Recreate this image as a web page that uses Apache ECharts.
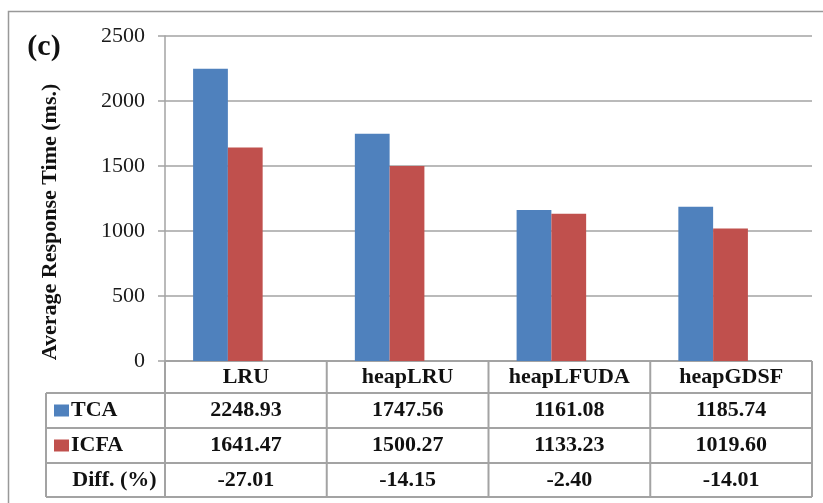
<!DOCTYPE html>
<html>
<head>
<meta charset="utf-8">
<script src="https://cdn.jsdelivr.net/npm/echarts@6/dist/echarts.min.js"></script>
<style>
  html, body { margin: 0; padding: 0; background: #fff; }
  #chart { width: 823px; height: 503px; }
</style>
</head>
<body>
<div id="chart"></div>
<script>
// Cache replacement policies and their average response times (ms.)
const categories = ['LRU', 'heapLRU', 'heapLFUDA', 'heapGDSF'];
const tcaValues = [2248.93, 1747.56, 1161.08, 1185.74];
const icfaValues = [1641.47, 1500.27, 1133.23, 1019.60];
const diffLabels = ['-27.01', '-14.15', '-2.40', '-14.01'];
const seriesNames = ['TCA', 'ICFA'];
const diffRowName = 'Diff. (%)';
const yTicks = [0, 500, 1000, 1500, 2000, 2500];
const panelTag = '(c)';
const yTitle = 'Average Response Time (ms.)';

const COLORS = ['#4F81BD', '#C0504D'];
const FONT = '"Liberation Serif", "Times New Roman", serif';
const LINE = '#A3A3A3';
const W = 823, H = 503;
// axis/table frame, and the slightly left-shifted band that holds the bars
const GRID = { left: 165, top: 36, right: 11, bottom: 142 };
const BAR_GRID = { left: 147, top: 36, right: 29, bottom: 142 };

const chart = echarts.init(document.getElementById('chart'), null, { renderer: 'canvas' });

const yRange = {
  min: yTicks[0],
  max: yTicks[yTicks.length - 1],
  interval: yTicks[1] - yTicks[0]
};

const option = {
  animation: false,
  backgroundColor: '#fff',
  grid: [
    Object.assign({ containLabel: false }, GRID),
    Object.assign({ containLabel: false }, BAR_GRID)
  ],
  xAxis: [
    {
      type: 'category', gridIndex: 0,
      data: categories,
      axisLine: { show: false },
      axisTick: { show: false },
      axisLabel: {
        margin: 16,
        verticalAlign: 'middle',
        fontFamily: FONT, fontSize: 22, fontWeight: 'bold', color: '#111'
      }
    },
    {
      type: 'category', gridIndex: 1,
      data: categories,
      show: false
    }
  ],
  yAxis: [
    Object.assign({
      type: 'value', gridIndex: 0,
      axisLine: { show: true, lineStyle: { color: LINE, width: 1.5 } },
      axisTick: { show: true, length: 7, lineStyle: { color: LINE, width: 1.5 } },
      splitLine: { show: true, lineStyle: { color: LINE, width: 1.5 } },
      axisLabel: {
        margin: 20, fontFamily: FONT, fontSize: 22, color: '#1a1a1a',
        formatter: v => String(v)
      }
    }, yRange),
    Object.assign({ type: 'value', gridIndex: 1, show: false, splitLine: { show: false } }, yRange)
  ],
  series: [
    {
      name: seriesNames[0], type: 'bar', data: tcaValues,
      xAxisIndex: 1, yAxisIndex: 1,
      itemStyle: { color: COLORS[0] },
      barGap: '0%', barCategoryGap: '57%'
    },
    {
      name: seriesNames[1], type: 'bar', data: icfaValues,
      xAxisIndex: 1, yAxisIndex: 1,
      itemStyle: { color: COLORS[1] },
      barGap: '0%', barCategoryGap: '57%'
    }
  ]
};
chart.setOption(option);

// Data table under the plot, aligned with the category columns
const left = GRID.left, right = W - GRID.right, axisY = H - GRID.bottom;
const colW = (right - left) / categories.length;
const tableLeft = 46;
const rowLines = [axisY, 393, 428, 463, 497];
const rows = [
  { name: seriesNames[0], values: tcaValues.map(v => v.toFixed(2)), color: COLORS[0] },
  { name: seriesNames[1], values: icfaValues.map(v => v.toFixed(2)), color: COLORS[1] },
  { name: diffRowName, values: diffLabels, color: null }
];
const CELL_FONT = 'bold 22px ' + FONT;

const g = [];
const line = (x1, y1, x2, y2) => g.push({
  type: 'line', silent: true,
  shape: { x1, y1, x2, y2 },
  style: { stroke: LINE, lineWidth: 2 }
});

// outer frame (open to the right and bottom)
g.push({
  type: 'polyline', silent: true,
  shape: { points: [[8.5, H + 5], [8.5, 11.5], [W + 5, 11.5]] },
  style: { stroke: '#999', lineWidth: 1.5, fill: null }
});

// horizontal table rules
line(left, rowLines[0], right, rowLines[0]);
for (let i = 1; i < rowLines.length; i++) line(tableLeft, rowLines[i], right, rowLines[i]);
// vertical table rules
line(tableLeft, rowLines[1], tableLeft, rowLines[4]);
for (let c = 0; c <= categories.length; c++) {
  const x = left + c * colW;
  line(x, axisY, x, rowLines[4]);
}

// rows: legend key, row name, values
rows.forEach((r, i) => {
  const cy = (rowLines[i + 1] + rowLines[i + 2]) / 2;
  if (r.color) {
    g.push({ type: 'rect', silent: true, shape: { x: 54, y: cy - 6, width: 15, height: 12 }, style: { fill: r.color } });
    g.push({ type: 'text', silent: true, style: {
      x: 71, y: cy, text: r.name, align: 'left', verticalAlign: 'middle',
      font: CELL_FONT, fill: '#111' } });
  } else {
    g.push({ type: 'text', silent: true, style: {
      x: (tableLeft + left) / 2 + 9, y: cy, text: r.name, align: 'center', verticalAlign: 'middle',
      font: CELL_FONT, fill: '#111' } });
  }
  r.values.forEach((v, c) => {
    g.push({ type: 'text', silent: true, style: {
      x: left + (c + 0.5) * colW, y: cy, text: v, align: 'center', verticalAlign: 'middle',
      font: CELL_FONT, fill: '#111' } });
  });
});

// panel tag and y-axis title
g.push({ type: 'text', silent: true, style: {
  x: 44, y: 47, text: panelTag, align: 'center', verticalAlign: 'middle',
  font: 'bold 30px ' + FONT, fill: '#111' } });
g.push({ type: 'text', silent: true, x: 50, y: 222, rotation: Math.PI / 2, style: {
  x: 0, y: 0, text: yTitle, align: 'center', verticalAlign: 'middle',
  font: 'bold 22px ' + FONT, fill: '#111' } });

chart.setOption({ graphic: { elements: g } });
</script>
</body>
</html>
